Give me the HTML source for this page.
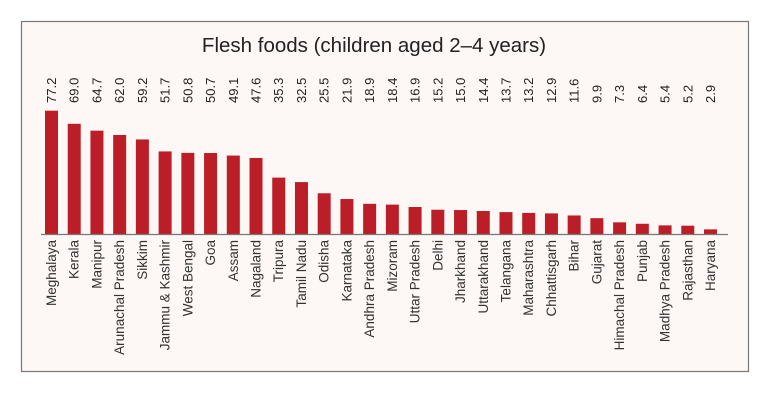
<!DOCTYPE html>
<html><head><meta charset="utf-8"><style>
body{margin:0;background:#fff;width:778px;height:417px;overflow:hidden}
svg{display:block;font-family:"Liberation Sans",sans-serif}
</style></head><body>
<svg id="c" width="778" height="417">
<rect x="21.5" y="21.5" width="727" height="350" fill="#fdf7f5" stroke="#777" stroke-width="1.2"/>
<text x="374" y="52" text-anchor="middle" font-size="20.5" fill="#222">Flesh foods (children aged 2–4 years)</text>
<g id="bars"></g>
<line x1="41" y1="234.5" x2="728" y2="234.5" stroke="#777" stroke-width="1.2"/>
</svg>
<script>
const categories=["Meghalaya","Kerala","Manipur","Arunachal Pradesh","Sikkim","Jammu & Kashmir","West Bengal","Goa","Assam","Nagaland","Tripura","Tamil Nadu","Odisha","Karnataka","Andhra Pradesh","Mizoram","Uttar Pradesh","Delhi","Jharkhand","Uttarakhand","Telangana","Maharashtra","Chhattisgarh","Bihar","Gujarat","Himachal Pradesh","Punjab","Madhya Pradesh","Rajasthan","Haryana"];
const values=[77.2,69.0,64.7,62.0,59.2,51.7,50.8,50.7,49.1,47.6,35.3,32.5,25.5,21.9,18.9,18.4,16.9,15.2,15.0,14.4,13.7,13.2,12.9,11.6,9.9,7.3,6.4,5.4,5.2,2.9];
const valueLabels=["77.2","69.0","64.7","62.0","59.2","51.7","50.8","50.7","49.1","47.6","35.3","32.5","25.5","21.9","18.9","18.4","16.9","15.2","15.0","14.4","13.7","13.2","12.9","11.6","9.9","7.3","6.4","5.4","5.2","2.9"];
const base=234, scale=123.3/77.2, bw=13;
const x0=51.5, step=(710.5-51.5)/(categories.length-1);
const xS=i=>x0+i*step, yS=v=>base-v*scale;
const g=document.getElementById('bars'), NS="http://www.w3.org/2000/svg";
categories.forEach((c,i)=>{
  const cx=xS(i), y=yS(values[i]);
  const r=document.createElementNS(NS,'rect');
  r.setAttribute('x',cx-bw/2);r.setAttribute('y',y);r.setAttribute('width',bw);r.setAttribute('height',base-y);r.setAttribute('fill','#bb1e26');
  
  
  g.appendChild(r);
  const t=document.createElementNS(NS,'text');
  t.setAttribute('transform',`translate(${cx+4.5},103) rotate(-90)`);
  t.setAttribute('font-size','13');t.setAttribute('fill','#222');t.textContent=valueLabels[i];
  
  
  g.appendChild(t);
  const l=document.createElementNS(NS,'text');
  l.setAttribute('transform',`translate(${cx+4.5},240) rotate(-90)`);
  l.setAttribute('text-anchor','end');l.setAttribute('font-size','13.5');l.setAttribute('fill','#333');l.textContent=c;
  
  
  g.appendChild(l);
});
</script>
</body></html>
